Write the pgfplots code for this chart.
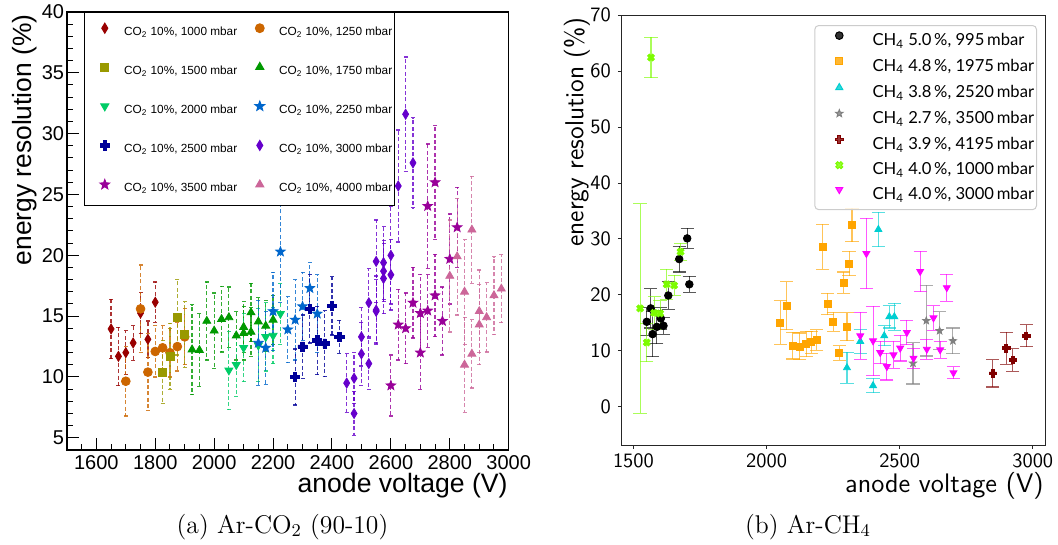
\documentclass[border=0pt]{standalone}
\usepackage{fontspec}
\usepackage{pgfplots}
\usepackage{pgfplotstable}
\pgfplotsset{compat=1.18}
\newfontfamily\arial{Liberation Sans}
\newfontfamily\lato{Lato}

\definecolor{cA}{HTML}{990000}
\definecolor{cB}{HTML}{CC6600}
\definecolor{cC}{HTML}{999900}
\definecolor{cD}{HTML}{009900}
\definecolor{cE}{HTML}{00CC66}
\definecolor{cF}{HTML}{0066CC}
\definecolor{cG}{HTML}{000099}
\definecolor{cH}{HTML}{6600CC}
\definecolor{cI}{HTML}{990099}
\definecolor{cJ}{HTML}{CC6699}
\definecolor{rOrange}{HTML}{FFA500}
\definecolor{rCyan}{HTML}{00CED1}
\definecolor{rGray}{HTML}{808080}
\definecolor{rMaroon}{HTML}{800000}
\definecolor{rLawn}{HTML}{7CFC00}
\definecolor{rMag}{HTML}{FF00FF}

\pgfdeclareplotmark{fstar}{%
  \pgfpathmoveto{\pgfqpointpolar{90}{\pgfplotmarksize}}%
  \pgfpathlineto{\pgfqpointpolar{126}{0.42\pgfplotmarksize}}%
  \pgfpathlineto{\pgfqpointpolar{162}{\pgfplotmarksize}}%
  \pgfpathlineto{\pgfqpointpolar{198}{0.42\pgfplotmarksize}}%
  \pgfpathlineto{\pgfqpointpolar{234}{\pgfplotmarksize}}%
  \pgfpathlineto{\pgfqpointpolar{270}{0.42\pgfplotmarksize}}%
  \pgfpathlineto{\pgfqpointpolar{306}{\pgfplotmarksize}}%
  \pgfpathlineto{\pgfqpointpolar{342}{0.42\pgfplotmarksize}}%
  \pgfpathlineto{\pgfqpointpolar{18}{\pgfplotmarksize}}%
  \pgfpathlineto{\pgfqpointpolar{54}{0.42\pgfplotmarksize}}%
  \pgfpathclose\pgfusepathqfillstroke}
\pgfdeclareplotmark{fplus}{%
  \pgfpathmoveto{\pgfqpoint{0.36\pgfplotmarksize}{\pgfplotmarksize}}%
  \pgfpathlineto{\pgfqpoint{-0.36\pgfplotmarksize}{\pgfplotmarksize}}%
  \pgfpathlineto{\pgfqpoint{-0.36\pgfplotmarksize}{0.36\pgfplotmarksize}}%
  \pgfpathlineto{\pgfqpoint{-\pgfplotmarksize}{0.36\pgfplotmarksize}}%
  \pgfpathlineto{\pgfqpoint{-\pgfplotmarksize}{-0.36\pgfplotmarksize}}%
  \pgfpathlineto{\pgfqpoint{-0.36\pgfplotmarksize}{-0.36\pgfplotmarksize}}%
  \pgfpathlineto{\pgfqpoint{-0.36\pgfplotmarksize}{-\pgfplotmarksize}}%
  \pgfpathlineto{\pgfqpoint{0.36\pgfplotmarksize}{-\pgfplotmarksize}}%
  \pgfpathlineto{\pgfqpoint{0.36\pgfplotmarksize}{-0.36\pgfplotmarksize}}%
  \pgfpathlineto{\pgfqpoint{\pgfplotmarksize}{-0.36\pgfplotmarksize}}%
  \pgfpathlineto{\pgfqpoint{\pgfplotmarksize}{0.36\pgfplotmarksize}}%
  \pgfpathlineto{\pgfqpoint{0.36\pgfplotmarksize}{0.36\pgfplotmarksize}}%
  \pgfpathclose\pgfusepathqfillstroke}
\pgfdeclareplotmark{fx}{{\pgftransformrotate{45}\pgfuseplotmark{fplus}}}
\pgfdeclareplotmark{fdiamond}{%
  \pgfpathmoveto{\pgfqpoint{0pt}{\pgfplotmarksize}}%
  \pgfpathlineto{\pgfqpoint{0.6\pgfplotmarksize}{0pt}}%
  \pgfpathlineto{\pgfqpoint{0pt}{-\pgfplotmarksize}}%
  \pgfpathlineto{\pgfqpoint{-0.6\pgfplotmarksize}{0pt}}%
  \pgfpathclose\pgfusepathqfillstroke}
\pgfdeclareplotmark{lcap}{%
  \pgfpathmoveto{\pgfqpoint{0pt}{-\pgfplotmarksize}}%
  \pgfpathlineto{\pgfqpoint{0pt}{0pt}}%
  \pgfusepathqstroke}

\pgfplotsset{
  ebL/.style={error bars/.cd, y dir=both, y explicit,
    error bar style={line width=0.6pt, dash pattern=on 2pt off 1.2pt, opacity=0.8},
    error mark=lcap, error mark options={mark size=2pt, solid, line width=0.6pt}},
  ebR/.style={error bars/.cd, y dir=both, y explicit,
    error bar style={line width=0.55pt, opacity=0.65},
    error mark options={rotate=90, mark size=3.3pt, line width=0.55pt}},
}

% ---------- left panel data: x y e ----------
\pgfplotstableread{
x y e
1650 13.95 2.45
1675 11.7 2.4
1700 12.0 1.8
1725 12.8 1.45
1750 15.25 1.7
1775 13.1 1.5
1800 16.15 1.65
}\LA
\pgfplotstableread{
x y e
1700 9.65 2.85
1750 15.6 3.6
1775 10.4 3.15
1800 12.1 2.1
1825 12.4 1.8
1850 12.0 2.0
1875 12.5 2.0
1900 13.3 2.3
}\LB
\pgfplotstableread{
x y e
1825 10.4 2.6
1850 11.7 2.7
1875 14.9 3.1
1900 13.5 2.7
}\LC
\pgfplotstableread{
x y e
1925 12.25 3.7
1950 12.2 3.0
1975 14.6 3.2
2000 13.8 3.1
2025 14.75 2.7
2050 14.9 2.5
2075 13.4 2.0
2100 13.6 2.2
2100 14.1 2.1
2125 15.3 2.4
2125 13.7 2.0
2150 14.55 2.0
2175 14.2 2.1
2200 14.7 2.0
}\LD
\pgfplotstableread{
x y e
2050 10.55 3.2
2075 11.0 2.6
2100 12.4 2.8
2150 12.6 3.0
2175 13.3 2.8
2200 13.4 2.3
2225 15.2 2.5
}\LE
\pgfplotstableread{
x y e
2150 12.8 3.5
2175 12.4 3.0
2200 15.4 3.2
2225 20.3 4.2
2250 13.9 2.7
2275 14.7 3.3
2300 15.8 2.8
2325 17.3 2.1
2350 15.2 3.2
}\LF
\pgfplotstableread{
x y e
2275 10.0 2.3
2300 12.5 2.6
2325 15.6 2.8
2350 13.0 2.8
2375 12.75 2.7
2400 15.85 2.4
2425 13.3 1.35
}\LG
\pgfplotstableread{
x y e
2450 9.5 2.4
2475 9.9 2.1
2475 7.0 1.8
2500 13.3 2.4
2500 11.9 2.6
2525 16.1 2.8
2525 11.1 2.1
2550 15.5 2.8
2550 15.4 2.6
2550 19.5 3.4
2575 19.4 3.0
2575 18.7 2.5
2575 18.1 2.9
2600 20.0 4.0
2600 18.4 2.9
2625 25.7 4.6
2650 31.6 4.7
2675 27.6 3.7
}\LH
\pgfplotstableread{
x y e
2600 9.3 2.5
2625 14.3 2.9
2650 14.0 2.9
2675 16.1 2.9
2700 12.0 3.0
2700 15.25 3.2
2725 24.05 5.1
2725 15.45 3.0
2750 26.0 4.7
2750 16.7 3.4
2775 14.6 2.8
2800 19.7 3.7
2825 22.3 3.3
}\LI
\pgfplotstableread{
x y e
2800 18.3 4.6
2825 19.9 4.8
2850 17.0 4.3
2850 11.0 3.9
2875 22.1 4.4
2875 11.9 2.8
2900 15.4 3.4
2900 14.3 3.3
2925 14.9 2.85
2950 16.7 3.2
2975 17.25 2.8
}\LJ

% ---------- right panel data: x y e ----------
\pgfplotstableread{
x y e
1550 15.2 2.5
1565 17.6 3.5
1572 13.0 4.0
1588 14.3 3.0
1603 15.8 2.0
1613 14.5 1.5
1631 19.9 2.5
1672 26.4 2.3
1702 30.1 1.8
1710 21.9 1.4
}\RA
\pgfplotstableread{
x y e
2051 15.05 3.9
2076 18.1 4.3
2099 10.95 2.4
2124 10.8 2.4
2149 11.2 2.2
2168 11.55 2.0
2189 11.95 1.8
2211 28.6 4.0
2230 18.4 1.9
2250 15.2 1.7
2273 9.65 1.3
2290 22.2 1.9
2302 14.35 2.5
2310 25.6 2.2
2321 32.5 3.0
}\RB
\pgfplotstableread{
x y e
2302 7.0 2.8
2352 11.7 2.2
2400 3.8 1.3
2420 31.7 3.1
2442 12.7 1.8
2461 16.1 2.0
2480 16.1 2.4
}\RC
\pgfplotstableread{
x y e
2550 7.8 3.7
2600 15.4 6.3
2650 13.6 3.4
2700 11.8 2.3
}\RD
\pgfplotstableread{
x y e
2850 6.0 2.45
2900 10.5 2.85
2925 8.4 2.0
2975 12.7 1.95
}\RE
\pgfplotstableread{
x y e
1525 17.6 18.7
1550 11.5 3.4
1566 62.4 3.6
1578 16.8 2.9
1600 16.7 2.3
1625 21.9 2.7
1653 21.7 1.8
1677 27.7 1.5
}\RF
\pgfplotstableread{
x y e
2352 12.7 4.2
2375 27.4 6.3
2400 11.8 6.2
2427 9.7 2.0
2452 7.2 2.4
2477 9.3 2.4
2502 10.5 2.3
2527 13.3 2.2
2552 8.7 1.8
2577 24.2 3.6
2602 10.3 1.8
2627 15.9 2.2
2652 10.2 1.5
2677 21.3 2.4
2702 6.1 1.1
}\RG

\newcommand{\Lent}[1]{\makebox[57.7pt][l]{#1}}
\newcommand{\Rent}[1]{\makebox[82pt][l]{#1}}

\begin{document}
\begin{tikzpicture}
\path[use as bounding box] (0,0) rectangle (529pt,272.5pt);

% ================= LEFT PANEL =================
\begin{axis}[
  at={(33.45pt,47.5pt)}, anchor=south west,
  scale only axis, width=220.9pt, height=219pt,
  xmin=1500, xmax=3000, ymin=4, ymax=40,
  xtick={1600,1800,...,3000}, ytick={5,10,...,40},
  minor xtick={1500,1550,...,3000}, minor ytick={4,5,...,40},
  tick align=inside, xtick pos=left, ytick pos=left,
  major tick length=6pt, minor tick length=3pt,
  axis line style={line width=0.7pt},
  every tick/.style={black, line width=0.5pt},
  ticklabel style={font=\arial\fontsize{10}{12}\selectfont},
  yticklabel style={inner xsep=1.2pt},
  xticklabel style={yshift=0.8pt},
  /pgf/number format/assume math mode=true,
  /pgf/number format/1000 sep={},
  legend columns=2,
  legend style={at={(0.0387,1)}, anchor=north west, draw=black, line width=0.5pt,
    fill=white, inner xsep=0pt, inner ysep=5.35pt, row sep=12.1pt, column sep=0pt,
    nodes={inner sep=0pt, text height=4.5pt, text depth=1.5pt,
      font=\arial\fontsize{5.9}{7}\selectfont}},
  legend cell align=left,
  legend image code/.code={\path (0pt,-2pt) (19.3pt,2pt); \draw[#1] plot coordinates {(9.9pt,2pt)};},
]
\addplot[only marks, color=cA, mark=fdiamond, mark size=2.5pt, ebL] table[x=x,y=y,y error=e] {\LA};
\addlegendentry{\Lent{CO\textsubscript{2} 10\%, 1000 mbar}}
\addplot[only marks, color=cB, mark=*, mark size=2.2pt, ebL] table[x=x,y=y,y error=e] {\LB};
\addlegendentry{\Lent{CO\textsubscript{2} 10\%, 1250 mbar}}
\addplot[only marks, color=cC, mark=square*, mark size=2pt, ebL] table[x=x,y=y,y error=e] {\LC};
\addlegendentry{\Lent{CO\textsubscript{2} 10\%, 1500 mbar}}
\addplot[only marks, color=cD, mark=triangle*, mark size=2.3pt, ebL] table[x=x,y=y,y error=e] {\LD};
\addlegendentry{\Lent{CO\textsubscript{2} 10\%, 1750 mbar}}
\addplot[only marks, color=cE, mark=triangle*, mark size=2.3pt, mark options={rotate=180}, ebL] table[x=x,y=y,y error=e] {\LE};
\addlegendentry{\Lent{CO\textsubscript{2} 10\%, 2000 mbar}}
\addplot[only marks, color=cF, mark=fstar, mark size=2.5pt, ebL] table[x=x,y=y,y error=e] {\LF};
\addlegendentry{\Lent{CO\textsubscript{2} 10\%, 2250 mbar}}
\addplot[only marks, color=cG, mark=fplus, mark size=2.3pt, ebL] table[x=x,y=y,y error=e] {\LG};
\addlegendentry{\Lent{CO\textsubscript{2} 10\%, 2500 mbar}}
\addplot[only marks, color=cH, mark=fdiamond, mark size=2.5pt, ebL] table[x=x,y=y,y error=e] {\LH};
\addlegendentry{\Lent{CO\textsubscript{2} 10\%, 3000 mbar}}
\addplot[only marks, color=cI, mark=fstar, mark size=2.5pt, ebL] table[x=x,y=y,y error=e] {\LI};
\addlegendentry{\Lent{CO\textsubscript{2} 10\%, 3500 mbar}}
\addplot[only marks, color=cJ, mark=triangle*, mark size=2.3pt, ebL] table[x=x,y=y,y error=e] {\LJ};
\addlegendentry{\Lent{CO\textsubscript{2} 10\%, 4000 mbar}}
\end{axis}

% ================= RIGHT PANEL =================
\begin{axis}[
  at={(310.85pt,50pt)}, anchor=south west,
  scale only axis, width=211.8pt, height=215pt,
  xmin=1456, xmax=3047, ymin=-6.8, ymax=70,
  xtick={1500,2000,2500,3000}, ytick={0,10,...,70},
  tick align=outside, xtick pos=left, ytick pos=left,
  major tick length=1.9pt,
  axis line style={line width=0.45pt, black!85},
  every tick/.style={black!85, line width=0.45pt},
  ticklabel style={font=\sffamily\fontsize{10.2}{12}\selectfont},
  xticklabel style={yshift=1.2pt},
  /pgf/number format/assume math mode=true,
  /pgf/number format/1000 sep={},
  legend style={at={(0.9804,0.9767)}, anchor=north east, draw=black!20, line width=0.5pt,
    rounded corners=2pt, fill=white, fill opacity=0.8, text opacity=1,
    inner xsep=0pt, inner ysep=3.15pt, row sep=4.2pt, column sep=0pt,
    nodes={inner sep=0pt, text height=6pt, text depth=2pt,
      font=\lato\fontsize{8.3}{10}\selectfont}},
  legend cell align=left,
  legend image code/.code={\path (0pt,-2pt) (28.35pt,2pt); \draw[#1] plot coordinates {(12pt,2.9pt)};},
]
\addplot[only marks, color=black, mark=*, mark size=1.9pt, ebR] table[x=x,y=y,y error=e] {\RA};
\addlegendentry{\Rent{CH\textsubscript{4} 5.0\,\%, 995\,mbar}}
\addplot[only marks, color=rOrange, mark=square*, mark size=1.75pt, ebR] table[x=x,y=y,y error=e] {\RB};
\addlegendentry{\Rent{CH\textsubscript{4} 4.8\,\%, 1975\,mbar}}
\addplot[only marks, color=rCyan, mark=triangle*, mark size=2pt, ebR] table[x=x,y=y,y error=e] {\RC};
\addlegendentry{\Rent{CH\textsubscript{4} 3.8\,\%, 2520\,mbar}}
\addplot[only marks, color=rGray, mark=fstar, mark size=1.9pt, ebR] table[x=x,y=y,y error=e] {\RD};
\addlegendentry{\Rent{CH\textsubscript{4} 2.7\,\%, 3500\,mbar}}
\addplot[only marks, color=rMaroon, mark=fplus, mark size=1.9pt, ebR] table[x=x,y=y,y error=e] {\RE};
\addlegendentry{\Rent{CH\textsubscript{4} 3.9\,\%, 4195\,mbar}}
\addplot[only marks, color=rLawn, mark=fx, mark size=1.8pt, ebR] table[x=x,y=y,y error=e] {\RF};
\addlegendentry{\Rent{CH\textsubscript{4} 4.0\,\%, 1000\,mbar}}
\addplot[only marks, color=rMag, mark=triangle*, mark size=2pt, mark options={rotate=180}, ebR] table[x=x,y=y,y error=e] {\RG};
\addlegendentry{\Rent{CH\textsubscript{4} 4.0\,\%, 3000\,mbar}}
\end{axis}

% ================= LABELS =================
\node[font=\arial\fontsize{13.2}{15}\selectfont, rotate=90, anchor=east, inner sep=0pt] at (12.5pt,265.5pt) {energy resolution (\%)};
\node[font=\arial\fontsize{13.3}{15}\selectfont, anchor=east, inner sep=0pt] at (254pt,29.6pt) {anode voltage (V)};
\node[font=\sffamily\fontsize{13}{15}\selectfont, rotate=90, anchor=east, inner sep=0pt] at (288.5pt,264pt) {energy resolution (\%)};
\node[font=\sffamily\fontsize{13.4}{15}\selectfont, anchor=east, inner sep=0pt] at (522pt,29.4pt) {anode voltage (V)};
\node[font=\fontsize{12.8}{15}\selectfont, inner sep=0pt] at (141.25pt,9pt) {(a) Ar-CO$_2$ (90-10)};
\node[font=\fontsize{12.8}{15}\selectfont, inner sep=0pt] at (404pt,9pt) {(b) Ar-CH$_4$};
\end{tikzpicture}
\end{document}
